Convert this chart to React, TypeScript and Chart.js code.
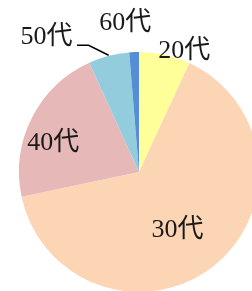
import React, { useEffect, useRef } from "react";
import { Chart, registerables } from "chart.js";

Chart.register(...registerables);

const categories = ["20代", "30代", "40代", "50代", "60代"];
const shares = [6.9, 64.8, 21.5, 5.5, 1.3];
const colors = ["#FFFF99", "#FCD5B5", "#E6B9B8", "#93CDDD", "#558ED5"];

// label layout: angle offset from slice mid-angle (deg), radius factor
const labelAngleOffset = [8.2, 5.3, -8.4, -19.8, -2.9];
const labelRadiusFactor = [1.072, 0.584, 0.753, 1.366, 1.247];
const leaderFor = [false, false, false, true, false];

const labelPlugin = {
  id: "pieLabels",
  afterDatasetsDraw(chart: any) {
    const ctx = chart.ctx;
    const meta = chart.getDatasetMeta(0);
    ctx.save();
    ctx.font = '26px "Liberation Serif", "Noto Sans CJK JP", serif';
    ctx.fillStyle = "#1a1a1a";
    ctx.textAlign = "center";
    ctx.textBaseline = "middle";
    meta.data.forEach((arc: any, i: number) => {
      const p = arc.getProps(["x", "y", "startAngle", "endAngle", "outerRadius"], true);
      const mid = (p.startAngle + p.endAngle) / 2;
      const a = mid + (labelAngleOffset[i] * Math.PI) / 180;
      const r = p.outerRadius * labelRadiusFactor[i];
      const lx = p.x + Math.cos(a) * r;
      const ly = p.y + Math.sin(a) * r;
      ctx.fillText(categories[i], lx, ly);
      if (leaderFor[i]) {
        const ex = p.x + Math.cos(mid) * p.outerRadius * 1.005;
        const ey = p.y + Math.sin(mid) * p.outerRadius * 1.005;
        const bx = ex - 20;
        const by = ey - 10;
        const sx = bx - 11.6;
        ctx.strokeStyle = "#000";
        ctx.lineWidth = 1.5;
        ctx.beginPath();
        ctx.moveTo(sx, by);
        ctx.lineTo(bx, by);
        ctx.lineTo(ex, ey);
        ctx.stroke();
      }
    });
    ctx.restore();
  },
};

export default function App() {
  const ref = useRef<HTMLCanvasElement>(null);
  useEffect(() => {
    const chart = new Chart(ref.current!, {
      type: "pie",
      data: {
        labels: categories,
        datasets: [
          {
            data: shares,
            backgroundColor: colors,
            borderWidth: 0,
          },
        ],
      },
      options: {
        responsive: false,
        animation: false,
        layout: { padding: { left: 19, top: 52, right: 41, bottom: 28 } },
        plugins: { legend: { display: false }, tooltip: { enabled: false } },
      },
      plugins: [labelPlugin],
    });
    return () => chart.destroy();
  }, []);
  return (
    <div
      style={{
        position: "fixed",
        left: 0,
        top: 0,
        width: 252,
        height: 291,
        overflow: "hidden",
        background: "#fff",
      }}
    >
      <canvas ref={ref} width={300} height={320} style={{ display: "block" }} />
    </div>
  );
}
